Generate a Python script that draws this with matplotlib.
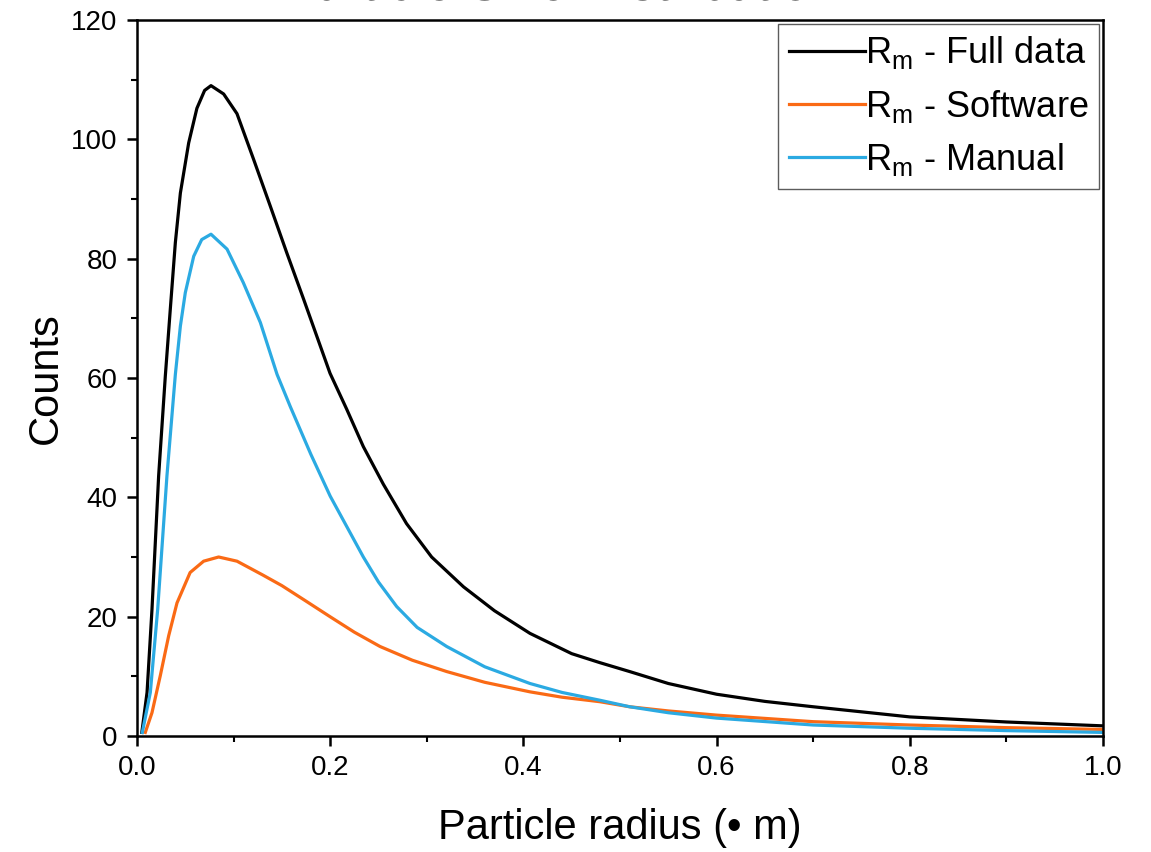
import numpy as np
import matplotlib
matplotlib.use('Agg')
import matplotlib.pyplot as plt
from matplotlib.ticker import MultipleLocator

plt.rcParams['font.family'] = ['Liberation Sans', 'DejaVu Sans']

# values
r_full = [0.005, 0.0104, 0.0155, 0.0224, 0.0293, 0.0345, 0.0397, 0.0449, 0.0535,
          0.062, 0.07, 0.0766, 0.0897, 0.1035, 0.1208, 0.138, 0.155, 0.1725,
          0.1998, 0.217, 0.2343, 0.255, 0.279, 0.305, 0.338, 0.37, 0.4068, 0.45,
          0.479, 0.51, 0.55, 0.6, 0.65, 0.7, 0.8, 0.9, 1.0]
counts_full = [0.6, 7.3, 21.2, 43.6, 60.3, 71.6, 82.7, 91, 99.4,
               105.2, 108.2, 109, 107.6, 104.3, 96.6, 88.8, 81, 73.2,
               60.8, 54.8, 48.5, 42.2, 35.6, 30.0, 25.0, 21.0, 17.2, 13.8,
               12.3, 10.8, 8.8, 7.0, 5.8, 4.9, 3.2, 2.35, 1.7]

r_soft = [0.0086, 0.0155, 0.0241, 0.0328, 0.0414, 0.055, 0.069, 0.0845, 0.1035,
          0.13, 0.15, 0.175, 0.1998, 0.225, 0.2516, 0.285, 0.3206, 0.36, 0.4068,
          0.44, 0.479, 0.51, 0.55, 0.6, 0.7, 0.8, 0.9, 1.0]
counts_soft = [0.6, 3.9, 10.1, 16.8, 22.3, 27.4, 29.3, 30.0, 29.3,
               27.0, 25.2, 22.6, 20.0, 17.4, 15.0, 12.7, 10.8, 9.0, 7.4,
               6.5, 5.75, 4.9, 4.2, 3.5, 2.4, 1.84, 1.4, 1.1]

r_man = [0.0055, 0.0138, 0.0214, 0.031, 0.0397, 0.0449, 0.050, 0.0587, 0.067,
         0.0766, 0.0932, 0.110, 0.1277, 0.145, 0.1587, 0.18, 0.2, 0.2343, 0.25,
         0.2688, 0.29, 0.3206, 0.36, 0.4068, 0.44, 0.479, 0.51, 0.55, 0.6, 0.7,
         0.8, 0.9, 1.0]
counts_man = [0.6, 7.3, 21.2, 43.6, 60.6, 68.7, 74.3, 80.4, 83.2,
              84.1, 81.6, 76, 69.3, 60.6, 55.2, 47.2, 40.2, 30.0, 25.8,
              21.7, 18.2, 15.0, 11.6, 8.8, 7.3, 6.0, 4.9, 3.9, 3.0, 1.84,
              1.3, 0.9, 0.6]

fig = plt.figure(figsize=(11.51, 8.52), dpi=100)
ax = fig.add_axes([137/1151, 1-736/852, 966/1151, 716/852])

ax.plot(r_full, counts_full, color='black', lw=2.3, label=r'R$_\mathregular{m}$ - Full data')
ax.plot(r_soft, counts_soft, color='#FA6A15', lw=2.3, label=r'R$_\mathregular{m}$ - Software')
ax.plot(r_man, counts_man, color='#2BAAE2', lw=2.3, label=r'R$_\mathregular{m}$ - Manual')

ax.set_xlim(0, 1)
ax.set_ylim(0, 120)
ax.xaxis.set_major_locator(MultipleLocator(0.2))
ax.xaxis.set_minor_locator(MultipleLocator(0.1))
ax.yaxis.set_major_locator(MultipleLocator(20))
ax.yaxis.set_minor_locator(MultipleLocator(10))
ax.xaxis.set_major_formatter(lambda v, p: f'{v:.1f}')
ax.tick_params(which='major', direction='out', length=7, width=1.8, labelsize=20, pad=7)
ax.tick_params(which='minor', direction='out', length=4, width=1.5)
for s in ax.spines.values():
    s.set_linewidth(1.8)

ax.set_xlabel('Particle radius (• m)', fontsize=30, labelpad=19)
ax.set_ylabel('Counts', fontsize=30, labelpad=4)

leg = ax.legend(loc='upper right', fontsize=26, frameon=True, fancybox=False,
                handlelength=2.1, handletextpad=0.0, borderpad=0.3,
                labelspacing=0.45, borderaxespad=0.1)
leg.get_frame().set_edgecolor('#333333')
leg.get_frame().set_linewidth(1.0)

fig.text(0.4865, 1.0, 'Particle Size Distribution', fontsize=37,
         ha='center', va='baseline')

fig.savefig('out.png', dpi=100)
